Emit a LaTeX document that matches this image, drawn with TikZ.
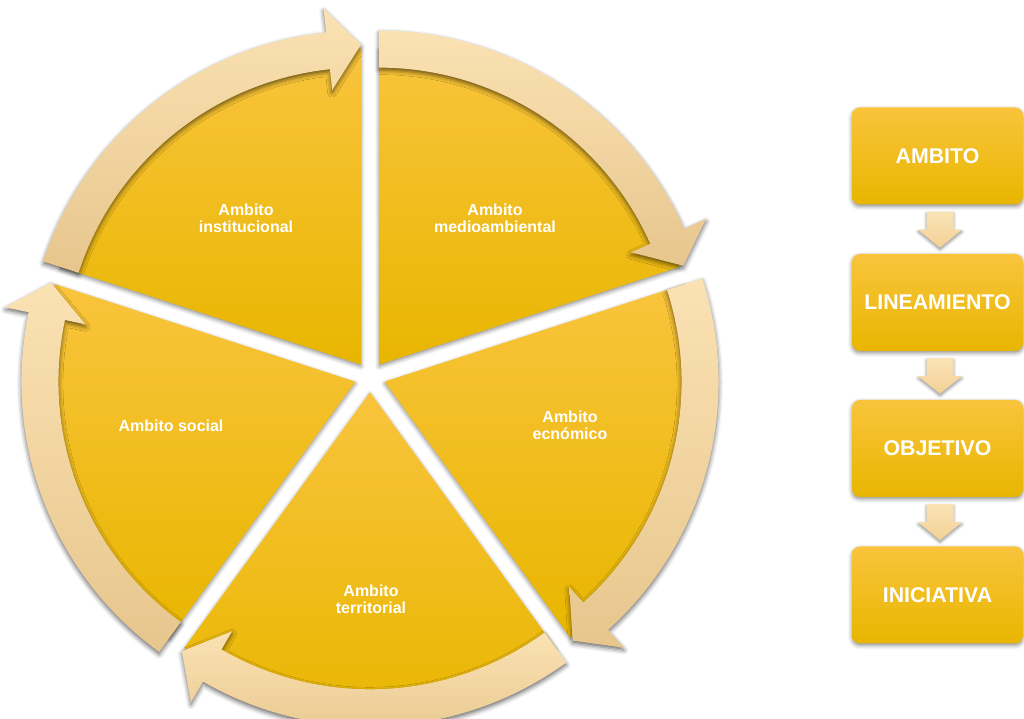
\documentclass[tikz,border=0pt]{standalone}
\usepackage{fontspec}
\setmainfont{Liberation Sans}
\usetikzlibrary{calc,shadows.blur}
\definecolor{wTop}{HTML}{F9C43C}
\definecolor{wMid}{HTML}{FDC60D}
\definecolor{wBot}{HTML}{E8B600}
\definecolor{aTop}{HTML}{FBE2B3}
\definecolor{aBot}{HTML}{E7C68D}
\definecolor{dTop}{HTML}{FBE3B6}
\definecolor{dBot}{HTML}{F2D196}
\tikzset{
  wedgefill/.style={top color=wTop, middle color=wMid, bottom color=wBot, draw=none,
    blur shadow={shadow xshift=0pt, shadow yshift=-2pt, shadow blur radius=4pt, shadow opacity=45}},
  ringfill/.style={top color=aTop, bottom color=aBot, draw=none,
    blur shadow={shadow xshift=0pt, shadow yshift=-2.5pt, shadow blur radius=4.5pt, shadow opacity=60}},
  lbl/.style={text=white, font=\bfseries\fontsize{16}{17.3}\selectfont, align=center, inner sep=0pt},
  stagebox/.style={rounded corners=8pt, minimum width=171pt, minimum height=97pt,
    top color=wTop, middle color=wMid, bottom color=wBot, draw=none, text=white,
    font=\bfseries\fontsize{21.3}{24}\selectfont,
    blur shadow={shadow xshift=0pt, shadow yshift=-2pt, shadow blur radius=4pt, shadow opacity=45}},
  downfill/.style={top color=dTop, bottom color=dBot, draw=none,
    blur shadow={shadow xshift=0pt, shadow yshift=-2pt, shadow blur radius=3pt, shadow opacity=45}}
}
\newcommand\pieseg[3]{% #1 apex name, #2 start angle, #3 bisector angle
  \path (C) ++(#3:15.3) coordinate (#1);
  \begin{scope}[shift={(#1)}]
    \path[wedgefill] (0,0) -- (#2:316) arc[start angle=#2, end angle=#2+72, radius=316] -- cycle;
  \end{scope}}
\newcommand\piearrow[2]{% #1 apex name, #2 head angle
  \begin{scope}[shift={(#1)}]
    \path[ringfill] (#2+72:334) arc[start angle=#2+72, end angle=#2+6, radius=334]
      -- (#2+6:358) -- (#2:320) -- (#2+6:276) -- (#2+6:297)
      arc[start angle=#2+6, end angle=#2+72, radius=297] -- cycle;
  \end{scope}}
\newcommand\blockdown[2]{%
  \path[downfill] let \p1=($(#1.south)+(2.5,-7)$), \p2=($(#2.north)+(2.5,6)$) in
    (\x1-13.5pt,\y1) -- (\x1+13.5pt,\y1) -- (\x1+13.5pt,\y1-18pt) -- (\x1+22pt,\y1-18pt)
    -- (\x2,\y2) -- (\x1-22pt,\y1-18pt) -- (\x1-13.5pt,\y1-18pt) -- cycle;}
\begin{document}
\begin{tikzpicture}[x=1pt,y=1pt]
\useasboundingbox (0,0) rectangle (1024,719);
\coordinate (C) at (370,342);
% wedges
\pieseg{Ai}{90}{126}
\pieseg{Am}{18}{54}
\pieseg{Ae}{-54}{-18}
\pieseg{At}{-126}{-90}
\pieseg{As}{162}{198}
% ring arrows
\piearrow{Ai}{90}
\piearrow{Am}{18}
\piearrow{Ae}{-54}
\piearrow{At}{-126}
\piearrow{As}{162}
% labels
\node[lbl] (li) at (246,501) {Ambito\\institucional};
\node[lbl] (lm) at (495,501) {Ambito\\medioambiental};
\node[lbl] (ls) at (171,293) {Ambito social};
\node[lbl] (le) at (570,294) {Ambito\\ecnómico};
\node[lbl] (lt) at (371,120) {Ambito\\territorial};
% process boxes
\node[stagebox] (b1) at (937.5,563) {AMBITO};
\node[stagebox] (b2) at (937.5,416.5) {LINEAMIENTO};
\node[stagebox] (b3) at (937.5,270.5) {OBJETIVO};
\node[stagebox] (b4) at (937.5,124) {INICIATIVA};
\blockdown{b1}{b2}
\blockdown{b2}{b3}
\blockdown{b3}{b4}
\end{tikzpicture}
\end{document}
